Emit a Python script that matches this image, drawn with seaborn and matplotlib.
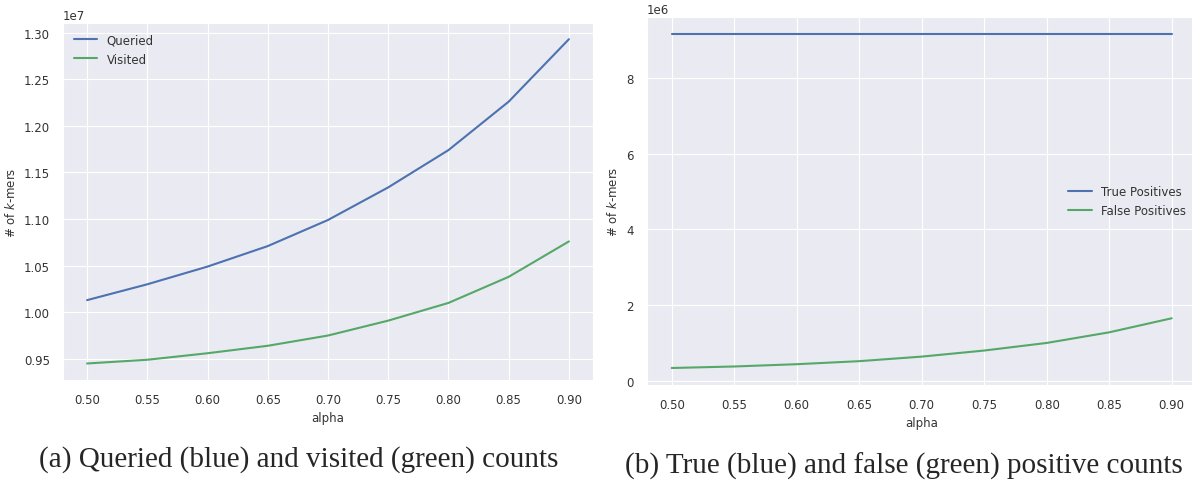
import pandas as pd
import matplotlib.pyplot as plt
import seaborn as sns

# Values
alpha = [0.50, 0.55, 0.60, 0.65, 0.70, 0.75, 0.80, 0.85, 0.90]
queried = [1.013e7, 1.030e7, 1.049e7, 1.071e7, 1.099e7, 1.134e7, 1.174e7, 1.226e7, 1.293e7]
visited = [0.945e7, 0.949e7, 0.956e7, 0.964e7, 0.975e7, 0.991e7, 1.010e7, 1.038e7, 1.076e7]
true_pos = [9.15e6] * 9
false_pos = [0.35e6, 0.39e6, 0.45e6, 0.53e6, 0.65e6, 0.81e6, 1.01e6, 1.29e6, 1.66e6]

captions = ["(a) Queried (blue) and visited (green) counts",
            "(b) True (blue) and false (green) positive counts"]

sns.set_style("darkgrid")
plt.rcParams["font.family"] = ["DejaVu Sans"]
colors = ["#4C72B0", "#55A868"]

df_a = pd.DataFrame({"alpha": alpha * 2,
                     "count": queried + visited,
                     "series": ["Queried"] * 9 + ["Visited"] * 9})
df_b = pd.DataFrame({"alpha": alpha * 2,
                     "count": true_pos + false_pos,
                     "series": ["True Positives"] * 9 + ["False Positives"] * 9})

fig = plt.figure(figsize=(11.92, 4.81), dpi=100)
ax1 = fig.add_axes([63 / 1192, 1 - 380.7 / 481, 530 / 1192, 356.7 / 481])
ax2 = fig.add_axes([646.7 / 1192, 1 - 385.7 / 481, 550 / 1192, 367.4 / 481])

for ax, df, loc in [(ax1, df_a, "upper left"), (ax2, df_b, "center right")]:
    sns.lineplot(data=df, x="alpha", y="count", hue="series", palette=colors,
                 linewidth=1.5, ax=ax)
    ax.set_xticks(alpha)
    ax.set_xticklabels([f"{a:.2f}" for a in alpha])
    ax.tick_params(labelsize=8.5, colors="#333333", pad=6)
    ax.set_xlabel("alpha", fontsize=8.5, color="#333333")
    ax.set_ylabel("# of $k$-mers", fontsize=8.5, color="#333333")
    ax.yaxis.get_offset_text().set_fontsize(8.5)
    ax.yaxis.get_offset_text().set_color("#333333")
    leg = ax.legend(loc=loc, frameon=False, fontsize=8.5)
    leg.set_title(None)
    for t in leg.get_texts():
        t.set_color("#333333")

ax1.set_yticks([0.95e7, 1.00e7, 1.05e7, 1.10e7, 1.15e7, 1.20e7, 1.25e7, 1.30e7])
ax2.set_yticks([0, 2e6, 4e6, 6e6, 8e6])

# Captions under each panel
fig.text(299 / 1192, 1 - 460 / 481, captions[0], ha="center", va="center",
         family="Liberation Serif", fontsize=21)
fig.text(904 / 1192, 1 - 466 / 481, captions[1], ha="center", va="center",
         family="Liberation Serif", fontsize=21)

fig.savefig("out.png", dpi=100)
